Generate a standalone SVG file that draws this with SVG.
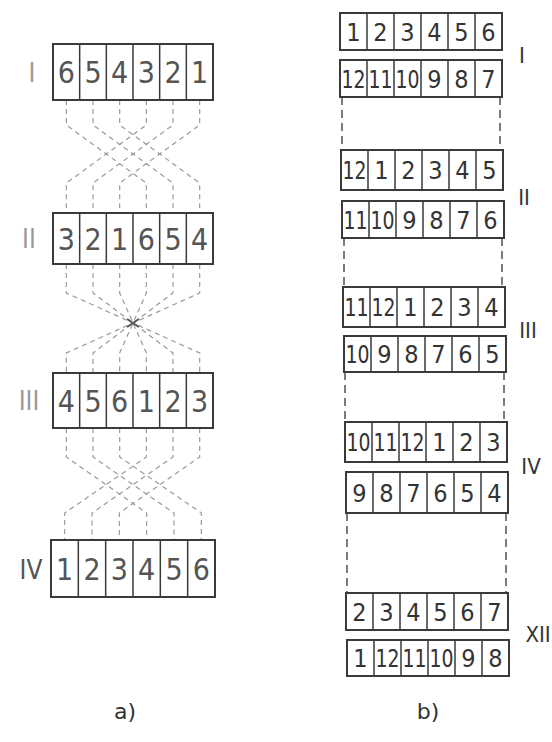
<svg xmlns="http://www.w3.org/2000/svg" width="552" height="742" viewBox="0 0 552 742">
<style>
.box{fill:#fff;stroke:#3a3a3a;stroke-width:2}
.div{stroke:#3a3a3a;stroke-width:1.5}
.da{font-family:"DejaVu Sans Condensed","Liberation Sans Narrow","Liberation Sans",sans-serif;font-size:30px;fill:#555;text-anchor:middle}
.db{font-family:"DejaVu Sans Condensed","Liberation Sans Narrow","Liberation Sans",sans-serif;font-size:25px;fill:#333;text-anchor:middle}
.rn{font-family:"DejaVu Sans Condensed","Liberation Sans",sans-serif;font-size:26px;fill:#999;text-anchor:middle}
.rb{font-family:"DejaVu Sans Condensed","Liberation Sans",sans-serif;font-size:22px;fill:#333;text-anchor:middle}
.cap{font-family:"DejaVu Sans","Liberation Sans",sans-serif;font-size:22px;fill:#333;text-anchor:middle}
.ca{fill:none;stroke:#9a9a9a;stroke-width:1.2;stroke-dasharray:5 4}
.cb{fill:none;stroke:#444;stroke-width:1.4;stroke-dasharray:8 5}
</style>
<rect width="552" height="742" fill="#fff"/>
<g id="connectors">
<path class="ca" d="M66.33,100V125L146.33,183V213"/>
<path class="ca" d="M93,100V125L173,183V213"/>
<path class="ca" d="M119.67,100V125L199.67,183V213"/>
<path class="ca" d="M146.33,100V125L66.33,183V213"/>
<path class="ca" d="M173,100V125L93,183V213"/>
<path class="ca" d="M199.67,100V125L119.67,183V213"/>
<path class="ca" d="M66.33,264V293L199.67,353V373"/>
<path class="ca" d="M93,264V293L173,353V373"/>
<path class="ca" d="M119.67,264V293L146.33,353V373"/>
<path class="ca" d="M146.33,264V293L119.67,353V373"/>
<path class="ca" d="M173,264V293L93,353V373"/>
<path class="ca" d="M199.67,264V293L66.33,353V373"/>
<path d="M127,319L139,327M139,319L127,327" stroke="#555" stroke-width="1.6"/>
<path class="ca" d="M66.33,428V457L146.67,513V540"/>
<path class="ca" d="M93,428V457L174,513V540"/>
<path class="ca" d="M119.67,428V457L201.33,513V540"/>
<path class="ca" d="M146.33,428V457L64.67,513V540"/>
<path class="ca" d="M173,428V457L92,513V540"/>
<path class="ca" d="M199.67,428V457L119.33,513V540"/>
<path class="cb" d="M342,97V150M500,97V150"/>
<path class="cb" d="M344,238V287M502,238V287"/>
<path class="cb" d="M345,372V422M504,372V422"/>
<path class="cb" d="M347,513V593M506,513V593"/>
</g>
<g id="a-I">
<text class="rn" x="32" y="82">I</text>
<rect class="box" x="53" y="44" width="160" height="56"/>
<path class="div" d="M79.67,44V100M106.33,44V100M133,44V100M159.67,44V100M186.33,44V100"/>
<text class="da" x="66.33" y="83">6</text><text class="da" x="93" y="83">5</text><text class="da" x="119.67" y="83">4</text><text class="da" x="146.33" y="83">3</text><text class="da" x="173" y="83">2</text><text class="da" x="199.67" y="83">1</text>
</g>
<g id="a-II">
<text class="rn" x="29" y="248">II</text>
<rect class="box" x="53" y="213" width="160" height="51"/>
<path class="div" d="M79.67,213V264M106.33,213V264M133,213V264M159.67,213V264M186.33,213V264"/>
<text class="da" x="66.33" y="249.5">3</text><text class="da" x="93" y="249.5">2</text><text class="da" x="119.67" y="249.5">1</text><text class="da" x="146.33" y="249.5">6</text><text class="da" x="173" y="249.5">5</text><text class="da" x="199.67" y="249.5">4</text>
</g>
<g id="a-III">
<text class="rn" x="29" y="410">III</text>
<rect class="box" x="53" y="373" width="160" height="55"/>
<path class="div" d="M79.67,373V428M106.33,373V428M133,373V428M159.67,373V428M186.33,373V428"/>
<text class="da" x="66.33" y="411.5">4</text><text class="da" x="93" y="411.5">5</text><text class="da" x="119.67" y="411.5">6</text><text class="da" x="146.33" y="411.5">1</text><text class="da" x="173" y="411.5">2</text><text class="da" x="199.67" y="411.5">3</text>
</g>
<g id="a-IV">
<text class="rn" x="31" y="579" style="fill:#555">IV</text>
<rect class="box" x="51" y="540" width="164" height="57"/>
<path class="div" d="M78.33,540V597M105.67,540V597M133,540V597M160.33,540V597M187.67,540V597"/>
<text class="da" x="64.67" y="579.5">1</text><text class="da" x="92" y="579.5">2</text><text class="da" x="119.33" y="579.5">3</text><text class="da" x="146.67" y="579.5">4</text><text class="da" x="174" y="579.5">5</text><text class="da" x="201.33" y="579.5">6</text>
</g>
<g id="b-I">
<rect class="box" x="340" y="13" width="162" height="37"/>
<path class="div" d="M367,13V50M394,13V50M421,13V50M448,13V50M475,13V50"/>
<text class="db" x="353.5" y="40.5">1</text><text class="db" x="380.5" y="40.5">2</text><text class="db" x="407.5" y="40.5">3</text><text class="db" x="434.5" y="40.5">4</text><text class="db" x="461.5" y="40.5">5</text><text class="db" x="488.5" y="40.5">6</text>
<rect class="box" x="340" y="60" width="162" height="37"/>
<path class="div" d="M367,60V97M394,60V97M421,60V97M448,60V97M475,60V97"/>
<text class="db" x="353.5" y="87.5" textLength="24" lengthAdjust="spacingAndGlyphs">12</text><text class="db" x="380.5" y="87.5" textLength="24" lengthAdjust="spacingAndGlyphs">11</text><text class="db" x="407.5" y="87.5" textLength="24" lengthAdjust="spacingAndGlyphs">10</text><text class="db" x="434.5" y="87.5">9</text><text class="db" x="461.5" y="87.5">8</text><text class="db" x="488.5" y="87.5">7</text>
<text class="rb" x="522" y="63">I</text>
</g>
<g id="b-II">
<rect class="box" x="341" y="150" width="162" height="40"/>
<path class="div" d="M368,150V190M395,150V190M422,150V190M449,150V190M476,150V190"/>
<text class="db" x="354.5" y="179" textLength="24" lengthAdjust="spacingAndGlyphs">12</text><text class="db" x="381.5" y="179">1</text><text class="db" x="408.5" y="179">2</text><text class="db" x="435.5" y="179">3</text><text class="db" x="462.5" y="179">4</text><text class="db" x="489.5" y="179">5</text>
<rect class="box" x="342" y="201" width="162" height="37"/>
<path class="div" d="M369,201V238M396,201V238M423,201V238M450,201V238M477,201V238"/>
<text class="db" x="355.5" y="228.5" textLength="24" lengthAdjust="spacingAndGlyphs">11</text><text class="db" x="382.5" y="228.5" textLength="24" lengthAdjust="spacingAndGlyphs">10</text><text class="db" x="409.5" y="228.5">9</text><text class="db" x="436.5" y="228.5">8</text><text class="db" x="463.5" y="228.5">7</text><text class="db" x="490.5" y="228.5">6</text>
<text class="rb" x="524" y="205">II</text>
</g>
<g id="b-III">
<rect class="box" x="343" y="287" width="162" height="40"/>
<path class="div" d="M370,287V327M397,287V327M424,287V327M451,287V327M478,287V327"/>
<text class="db" x="356.5" y="316" textLength="24" lengthAdjust="spacingAndGlyphs">11</text><text class="db" x="383.5" y="316" textLength="24" lengthAdjust="spacingAndGlyphs">12</text><text class="db" x="410.5" y="316">1</text><text class="db" x="437.5" y="316">2</text><text class="db" x="464.5" y="316">3</text><text class="db" x="491.5" y="316">4</text>
<rect class="box" x="344" y="336" width="162" height="36"/>
<path class="div" d="M371,336V372M398,336V372M425,336V372M452,336V372M479,336V372"/>
<text class="db" x="357.5" y="363" textLength="24" lengthAdjust="spacingAndGlyphs">10</text><text class="db" x="384.5" y="363">9</text><text class="db" x="411.5" y="363">8</text><text class="db" x="438.5" y="363">7</text><text class="db" x="465.5" y="363">6</text><text class="db" x="492.5" y="363">5</text>
<text class="rb" x="528" y="338">III</text>
</g>
<g id="b-IV">
<rect class="box" x="345" y="422" width="162" height="40"/>
<path class="div" d="M372,422V462M399,422V462M426,422V462M453,422V462M480,422V462"/>
<text class="db" x="358.5" y="451" textLength="24" lengthAdjust="spacingAndGlyphs">10</text><text class="db" x="385.5" y="451" textLength="24" lengthAdjust="spacingAndGlyphs">11</text><text class="db" x="412.5" y="451" textLength="24" lengthAdjust="spacingAndGlyphs">12</text><text class="db" x="439.5" y="451">1</text><text class="db" x="466.5" y="451">2</text><text class="db" x="493.5" y="451">3</text>
<rect class="box" x="346" y="472" width="162" height="41"/>
<path class="div" d="M373,472V513M400,472V513M427,472V513M454,472V513M481,472V513"/>
<text class="db" x="359.5" y="501.5">9</text><text class="db" x="386.5" y="501.5">8</text><text class="db" x="413.5" y="501.5">7</text><text class="db" x="440.5" y="501.5">6</text><text class="db" x="467.5" y="501.5">5</text><text class="db" x="494.5" y="501.5">4</text>
<text class="rb" x="531" y="474">IV</text>
</g>
<g id="b-XII">
<rect class="box" x="346" y="593" width="162" height="37"/>
<path class="div" d="M373,593V630M400,593V630M427,593V630M454,593V630M481,593V630"/>
<text class="db" x="359.5" y="620.5">2</text><text class="db" x="386.5" y="620.5">3</text><text class="db" x="413.5" y="620.5">4</text><text class="db" x="440.5" y="620.5">5</text><text class="db" x="467.5" y="620.5">6</text><text class="db" x="494.5" y="620.5">7</text>
<rect class="box" x="347" y="640" width="162" height="36"/>
<path class="div" d="M374,640V676M401,640V676M428,640V676M455,640V676M482,640V676"/>
<text class="db" x="360.5" y="667">1</text><text class="db" x="387.5" y="667" textLength="24" lengthAdjust="spacingAndGlyphs">12</text><text class="db" x="414.5" y="667" textLength="24" lengthAdjust="spacingAndGlyphs">11</text><text class="db" x="441.5" y="667" textLength="24" lengthAdjust="spacingAndGlyphs">10</text><text class="db" x="468.5" y="667">9</text><text class="db" x="495.5" y="667">8</text>
<text class="rb" x="538" y="642">XII</text>
</g>
<g id="captions">
<text class="cap" x="125" y="719">a)</text>
<text class="cap" x="428" y="719">b)</text>
</g>
</svg>
